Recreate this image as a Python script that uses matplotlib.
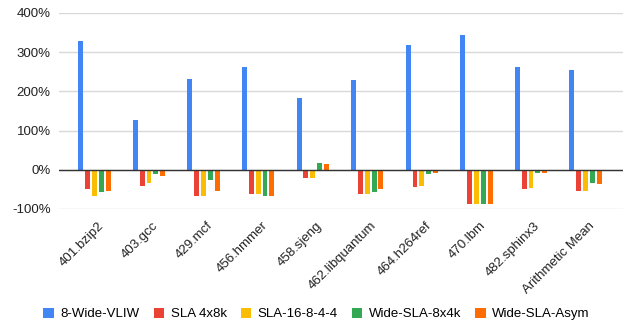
import matplotlib
matplotlib.use("Agg")
import matplotlib.pyplot as plt
import matplotlib.transforms as mtransforms
import numpy as np
from matplotlib.ticker import FuncFormatter

categories = ["401.bzip2", "403.gcc", "429.mcf", "456.hmmer", "458.sjeng",
              "462.libquantum", "464.h264ref", "470.lbm", "482.sphinx3", "Arithmetic Mean"]
series_names = ["8-Wide-VLIW", "SLA 4x8k", "SLA-16-8-4-4", "Wide-SLA-8x4k", "Wide-SLA-Asym"]
vliw = [329, 126, 232, 261, 182, 228, 317, 344, 261, 254]
sla_4x8k = [-50, -42, -68, -63, -20, -62, -44, -87, -49, -55]
sla_16844 = [-67, -33, -68, -63, -20, -62, -41, -87, -46, -55]
wide_8x4k = [-57, -11, -26, -68, 17, -57, -11, -87, -9, -33]
wide_asym = [-55, -16, -55, -68, 15, -50, -7, -87, -7, -36]
colors = ["#4285F4", "#EA4335", "#FBBC04", "#34A853", "#FF6D01"]

plt.rcParams['font.family'] = ['Liberation Sans', 'DejaVu Sans']

fig = plt.figure(figsize=(6.27, 3.23), dpi=100)
ax = fig.add_axes([0.094, 0.353, 0.900, 0.607])

x = np.arange(len(categories))
step = 0.125
width = 0.09
data = [vliw, sla_4x8k, sla_16844, wide_8x4k, wide_asym]
for i, (vals, name, c) in enumerate(zip(data, series_names, colors)):
    ax.bar(x + (i - 2) * step, vals, width=width, color=c, label=name, zorder=3)

ax.set_ylim(-100, 400)
ax.set_yticks([-100, 0, 100, 200, 300, 400])
ax.yaxis.set_major_formatter(FuncFormatter(lambda v, p: f"{int(v)}%"))
ax.set_xlim(-0.65, 9.69)
ax.set_xticks(x)
ax.set_xticklabels(categories, rotation=45, ha='right', rotation_mode='anchor')
ax.tick_params(axis='both', length=0, labelsize=9.5, colors='#222222')
ax.tick_params(axis='x', pad=7)
ax.tick_params(axis='y', pad=6)
offset = mtransforms.ScaledTranslation(3 / 100, -1 / 100, fig.dpi_scale_trans)
for lbl in ax.get_xticklabels():
    lbl.set_transform(lbl.get_transform() + offset)
ax.grid(axis='y', color='#d9d9d9', linewidth=1, zorder=0)
ax.axhline(0, color='#333333', linewidth=1, zorder=4)
for s in ax.spines.values():
    s.set_visible(False)

handles, labels = ax.get_legend_handles_labels()
fig.legend(handles, labels, loc='center', bbox_to_anchor=(0.505, 0.028), ncol=5,
           frameon=False, fontsize=9.5, handlelength=0.8, handleheight=0.8,
           handletextpad=0.5, columnspacing=1.05)

fig.savefig("out.png", dpi=100)
